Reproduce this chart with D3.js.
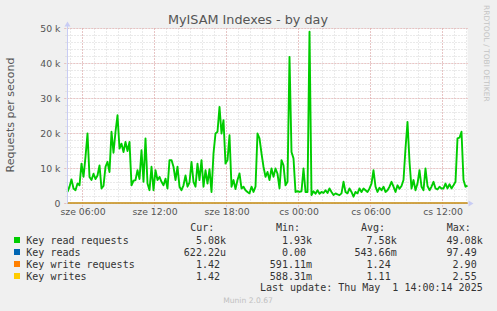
<!DOCTYPE html>
<html><head><meta charset="utf-8">
<script src="https://cdn.jsdelivr.net/npm/d3@7"></script>
<style>
html,body{margin:0;padding:0;background:#f0f0f0;}
svg{display:block;}
text{font-family:"DejaVu Sans",sans-serif;}
.mono{font-family:"DejaVu Sans Mono",monospace;white-space:pre;}
</style></head>
<body>
<svg id="c" width="497" height="311"></svg>
<script>
// ---- data ----
const title = "MyISAM Indexes - by day";
const yLabel = "Requests per second";
const startTime = new Date(2025, 3, 30, 4, 45);   // first sample
const stepMinutes = 10;
// Key read requests, thousands per second, one value every 10 minutes
const keyReadRequestsK = [
 3.3,4.8,6.9,4.3,3.8,5.7,5.2,11.4,7.6,13.3,
 20.0,7.6,6.7,8.5,7.0,8.0,10.9,4.3,5.0,10.5,
 11.9,9.0,20.5,14.5,20.5,25.2,15.7,17.1,14.7,17.6,
 15.0,17.6,5.2,6.5,6.7,9.5,7.0,15.2,6.2,18.6,
 5.7,3.8,10.5,3.8,9.5,6.7,7.6,6.2,5.2,7.1,
 4.3,12.4,12.4,10.5,6.7,10.5,4.8,3.8,5.2,8.0,
 4.8,6.0,11.9,6.2,4.8,11.4,6.7,12.4,4.8,9.5,
 5.7,9.8,3.3,14.3,20.0,20.5,27.6,20.0,23.8,11.4,
 12.4,19.5,4.8,6.7,4.1,6.7,8.6,4.3,4.8,3.8,
 3.3,2.9,4.8,3.3,4.8,20.0,18.6,14.3,10.5,7.6,
 9.0,6.7,10.0,7.6,10.0,8.5,4.3,12.4,10.9,5.2,
 6.2,41.9,14.7,12.9,3.3,3.5,3.3,3.5,10.0,3.3,
 3.3,49.08,2.4,3.5,2.8,3.8,2.8,3.3,3.0,3.8,
 3.0,4.3,3.3,2.4,2.9,2.6,2.4,2.9,6.2,3.3,
 2.9,4.3,3.3,1.93,3.3,2.9,4.3,3.3,4.3,3.8,
 3.3,4.3,5.7,9.5,4.8,3.3,4.5,3.8,4.8,3.3,
 3.8,4.8,6.2,4.8,3.3,5.2,4.2,5.0,6.7,15.7,
 23.3,12.0,4.3,6.7,3.8,5.7,9.5,4.8,3.8,10.0,
 5.0,3.8,4.8,6.2,4.3,4.0,4.8,4.3,4.3,5.7,
 4.3,5.5,4.3,5.2,6.2,18.6,18.8,20.5,6.7,4.8,
 5.08
];
// small series (requests per second), sampled every 200 minutes
const keyReads          = [0.0,0.9,0.2,0.0,0.5,1.1,0.3,0.0,0.6,0.2,0.0];
const keyWriteRequests  = [1.2,1.3,1.1,1.4,1.0,1.2,1.3,0.9,1.2,1.3,1.42];
const keyWrites         = [1.1,1.2,1.0,1.2,0.9,1.1,1.2,0.8,1.1,1.2,1.42];
const seriesNames  = ["Key read requests","Key reads","Key write requests","Key writes"];
const seriesColors = ["#00cc00","#0066b3","#ff8000","#ffcc00"];
const legendHeaders = ["Cur:","Min:","Avg:","Max:"];
const statCur = ["5.08k","622.22u","1.42","1.42"];
const statMin = ["1.93k","0.00","591.11m","588.31m"];
const statAvg = ["7.58k","543.66m","1.24","1.11"];
const statMax = ["49.08k","97.49","2.90","2.55"];
const yTicks = [0,10,20,30,40,50];
const xTickTimes = [new Date(2025,3,30,6),new Date(2025,3,30,12),new Date(2025,3,30,18),
                    new Date(2025,4,1,0),new Date(2025,4,1,6),new Date(2025,4,1,12)];
const xTickLabels = ["sze 06:00","sze 12:00","sze 18:00","cs 00:00","cs 06:00","cs 12:00"];
const lastUpdate = "Last update: Thu May  1 14:00:14 2025";
const footer = "Munin 2.0.67";
const watermark = "RRDTOOL / TOBI OETIKER";

// ---- drawing ----
const svg = d3.select("#c");
const L = 67.5, R = 467.5, T = 28.5, B = 203.5;
const endTime = new Date(startTime.getTime() + (keyReadRequestsK.length-1)*stepMinutes*60000);
const x = d3.scaleTime().domain([startTime, endTime]).range([L, R]);
const y = d3.scaleLinear().domain([0, 50]).range([B, T]);

svg.append("rect").attr("x",L).attr("y",T).attr("width",R-L).attr("height",B-T).attr("fill","#fff");

// minor grid
const minorY = d3.range(0, 50.001, 2);
const g = svg.append("g");
g.selectAll(".hm").data(minorY).join("line")
  .attr("x1",L-2).attr("x2",R).attr("y1",d=>Math.round(y(d)-0.5)+0.5).attr("y2",d=>Math.round(y(d)-0.5)+0.5)
  .attr("stroke","#d4d4d4").attr("stroke-dasharray","1,2").attr("stroke-width",1);
const minorX = d3.timeHour.range(d3.timeHour.ceil(startTime), endTime);
g.selectAll(".vm").data(minorX).join("line")
  .attr("x1",d=>Math.round(x(d)-0.5)+0.5).attr("x2",d=>Math.round(x(d)-0.5)+0.5).attr("y1",T).attr("y2",B+2)
  .attr("stroke","#d4d4d4").attr("stroke-dasharray","1,2");
// major grid
g.selectAll(".hM").data(yTicks).join("line")
  .attr("x1",L-3).attr("x2",R).attr("y1",d=>Math.round(y(d)-0.5)+0.5).attr("y2",d=>Math.round(y(d)-0.5)+0.5)
  .attr("stroke","#e5a0a0").attr("stroke-dasharray","1,2");
g.selectAll(".vM").data(xTickTimes).join("line")
  .attr("x1",d=>Math.round(x(d)-0.5)+0.5).attr("x2",d=>Math.round(x(d)-0.5)+0.5).attr("y1",T).attr("y2",B+3)
  .attr("stroke","#e5a0a0").attr("stroke-dasharray","1,2");

// axes labels via d3 axes
const yAxis = d3.axisLeft(y).tickValues(yTicks).tickSize(0).tickPadding(7)
  .tickFormat(d => d===0 ? "0" : d+" k");
const ya = svg.append("g").attr("transform",`translate(${L},0)`).call(yAxis);
ya.select(".domain").remove();
ya.selectAll("text").attr("font-size",9.3).attr("fill","#555").attr("font-family","DejaVu Sans");

const xAxis = d3.axisBottom(x).tickValues(xTickTimes).tickSize(0).tickPadding(5)
  .tickFormat((d,i)=>xTickLabels[i]);
const xa = svg.append("g").attr("transform",`translate(0,${B})`).call(xAxis);
xa.select(".domain").remove();
xa.selectAll("text").attr("font-size",9.3).attr("fill","#555").attr("font-family","DejaVu Sans");

// series lines
const line = d3.line().x((d,i)=>x(new Date(startTime.getTime()+i*stepMinutes*60000))).y(d=>y(d));
svg.append("path").datum(keyReadRequestsK).attr("d",line).attr("fill","none")
  .attr("stroke",seriesColors[0]).attr("stroke-width",1.9).attr("stroke-linejoin","round");
const smallStep = (endTime - startTime)/(keyReads.length-1);
const lineSmall = d3.line().x((d,i)=>x(new Date(startTime.getTime()+i*smallStep))).y(d=>y(d/1000)-0.5);
[keyReads,keyWriteRequests,keyWrites].forEach((s,k)=>{
  svg.append("path").datum(s).attr("d",lineSmall).attr("fill","none")
    .attr("stroke",seriesColors[k+1]).attr("stroke-width",1).attr("opacity",k==2?0.6:1);
});

// axis lines with arrows
const axC = "#c8ccf4";
svg.append("line").attr("x1",L).attr("x2",L).attr("y1",B).attr("y2",T-5).attr("stroke",axC);
svg.append("path").attr("d",`M${L-3},${T-2}L${L+3},${T-2}L${L},${T-7}Z`).attr("fill",axC);
svg.append("path").attr("d",`M${R+1},${B-3}L${R+1},${B+3}L${R+6},${B}Z`).attr("fill",axC);

// title
svg.append("text").attr("x",248).attr("y",24).attr("text-anchor","middle")
  .attr("font-size",12.8).attr("fill","#555").text(title);
// y label
svg.append("text").attr("transform","translate(14,115) rotate(-90)").attr("text-anchor","middle")
  .attr("font-size",11).attr("fill","#555").text(yLabel);
// watermark
svg.append("text").attr("transform","translate(484,5) rotate(90)").attr("text-anchor","start")
  .attr("font-size",7.5).attr("fill","#c4c4c4").text(watermark);

// legend
const rowY = [243.5,255.5,267.5,279.5];
const ch = 6.02;
const headerX = [190.3,276,361,446.7];
svg.selectAll(".hdr").data(legendHeaders).join("text").attr("class","mono")
  .attr("x",(d,i)=>headerX[i]).attr("y",231).attr("font-size",10).attr("fill","#333").text(d=>d);
const lg = svg.selectAll(".row").data(seriesNames).join("g");
lg.append("rect").attr("x",14).attr("y",(d,i)=>rowY[i]-6.5).attr("width",6).attr("height",6)
  .attr("fill",(d,i)=>seriesColors[i]);
lg.append("text").attr("class","mono").attr("x",26.3).attr("y",(d,i)=>rowY[i])
  .attr("font-size",10).attr("fill","#333").text(d=>d);
const colEnd = [226,312,396.7,482.7];
[statCur,statMin,statAvg,statMax].forEach((col,c)=>{
  col.forEach((v,r)=>{
    const hasUnit = /[a-zA-Z]$/.test(v);
    svg.append("text").attr("class","mono").attr("text-anchor","end")
      .attr("x",colEnd[c] - (hasUnit?0:ch)).attr("y",rowY[r]).attr("font-size",10).attr("fill","#333").text(v);
  });
});
svg.append("text").attr("class","mono").attr("x",482.7).attr("y",291.3).attr("text-anchor","end")
  .attr("font-size",10).attr("fill","#333").text(lastUpdate);
svg.append("text").attr("x",248).attr("y",303).attr("text-anchor","middle")
  .attr("font-size",7.6).attr("fill","#c0c0c0").text(footer);
</script>
</body></html>
